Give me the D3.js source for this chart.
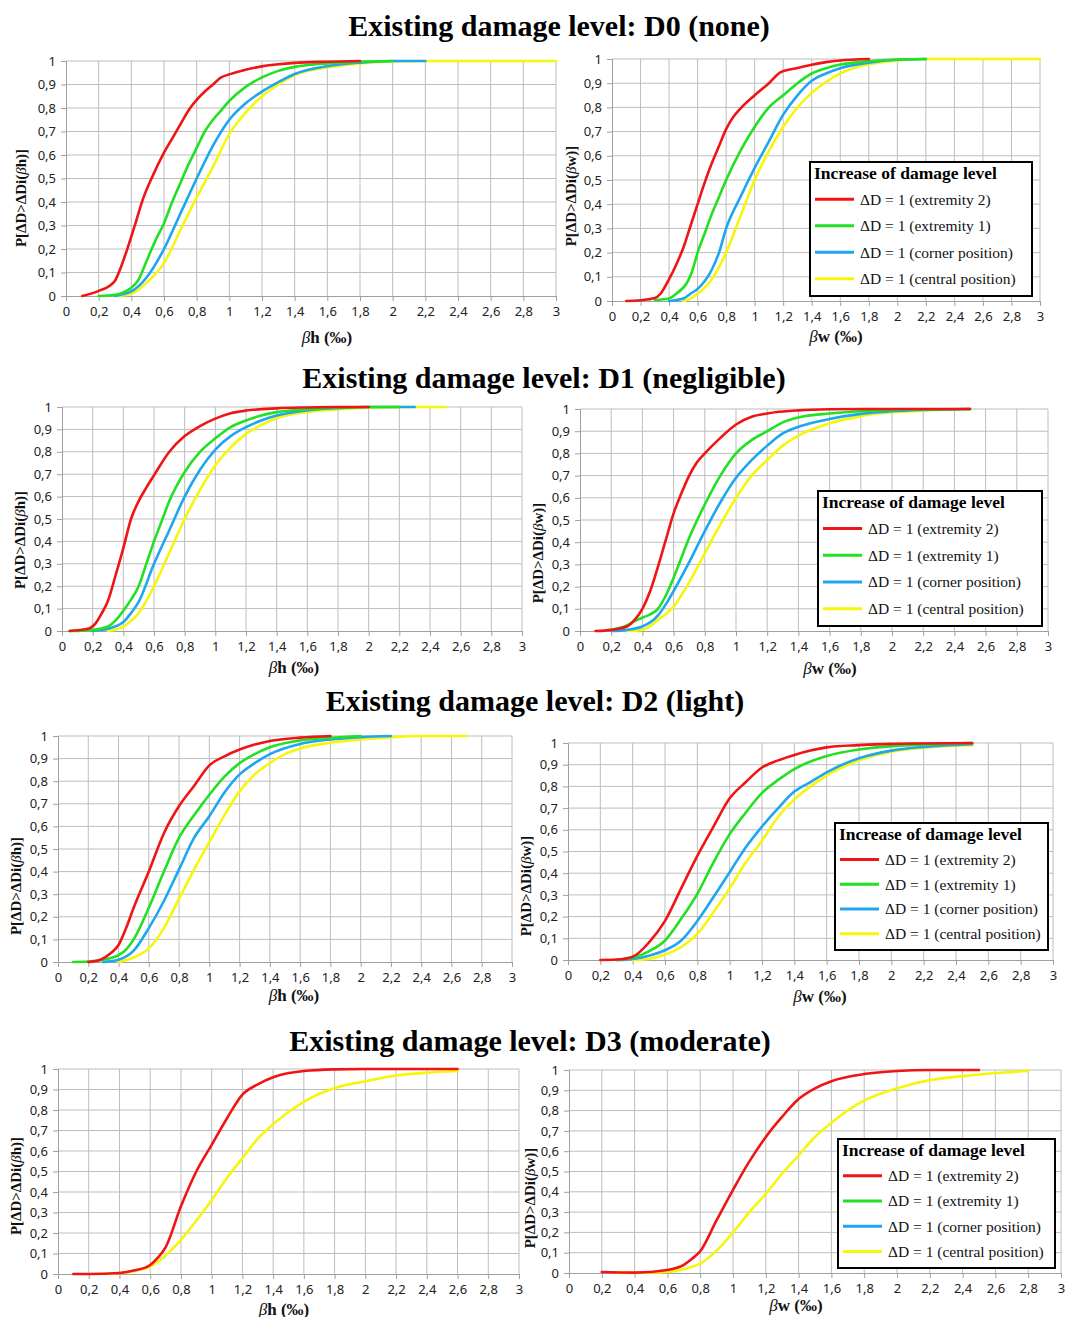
<!DOCTYPE html>
<html>
<head>
<meta charset="utf-8">
<script src="https://cdn.jsdelivr.net/npm/d3@7"></script>
<style>
  html, body { margin: 0; padding: 0; background: #ffffff; }
  svg { display: block; }
</style>
</head>
<body>
<svg id="chart" width="1068" height="1317"></svg>
<script>
// ---- Tick values (both axes use comma decimals) ----
const xTickValues = [0, 0.2, 0.4, 0.6, 0.8, 1, 1.2, 1.4, 1.6, 1.8, 2, 2.2, 2.4, 2.6, 2.8, 3];
const yTickValues = [0, 0.1, 0.2, 0.3, 0.4, 0.5, 0.6, 0.7, 0.8, 0.9, 1];

// ---- Series (legend order) ----
const seriesNames = [
  "ΔD = 1 (extremity 2)",
  "ΔD = 1 (extremity 1)",
  "ΔD = 1 (corner position)",
  "ΔD = 1 (central position)"
];
const seriesColors = ["#f01414", "#22e022", "#1ea6ee", "#f6f60c"];

const rowTitles = [
  "Existing damage level: D0 (none)",
  "Existing damage level: D1 (negligible)",
  "Existing damage level: D2 (light)",
  "Existing damage level: D3 (moderate)"
];

// ---- D0: fragility curves, [drift ‰, probability] ----
const d0hExt2    = [[0.1,0],[0.2,0.022],[0.27,0.045],[0.3,0.065],[0.34,0.13],[0.38,0.21],[0.43,0.32],[0.47,0.41],[0.53,0.51],[0.6,0.61],[0.65,0.67],[0.7,0.73],[0.76,0.8],[0.8,0.835],[0.85,0.87],[0.9,0.9],[0.95,0.93],[1.0,0.943],[1.1,0.963],[1.2,0.977],[1.3,0.986],[1.4,0.992],[1.6,0.997],[1.8,1]];
const d0hExt1    = [[0.2,0],[0.3,0.005],[0.35,0.015],[0.4,0.035],[0.44,0.065],[0.5,0.16],[0.55,0.24],[0.6,0.31],[0.65,0.4],[0.7,0.48],[0.75,0.56],[0.8,0.63],[0.85,0.7],[0.9,0.75],[0.95,0.79],[1.0,0.83],[1.1,0.89],[1.2,0.93],[1.3,0.958],[1.4,0.975],[1.6,0.99],[1.8,0.997],[2.0,1]];
const d0hCorner  = [[0.3,0],[0.35,0.008],[0.4,0.02],[0.45,0.045],[0.5,0.085],[0.6,0.2],[0.7,0.35],[0.8,0.5],[0.9,0.64],[1.0,0.75],[1.1,0.82],[1.2,0.87],[1.3,0.91],[1.4,0.945],[1.6,0.978],[1.8,0.993],[2.0,1],[2.2,1]];
const d0hCentral = [[0.3,0],[0.4,0.01],[0.45,0.03],[0.5,0.06],[0.6,0.14],[0.7,0.28],[0.8,0.42],[0.9,0.55],[1.0,0.69],[1.1,0.78],[1.2,0.85],[1.3,0.9],[1.4,0.94],[1.6,0.972],[1.8,0.99],[2.0,0.998],[2.2,1],[3.0,1]];

const d0wExt2    = [[0.1,0],[0.2,0.003],[0.3,0.012],[0.34,0.03],[0.4,0.09],[0.45,0.15],[0.5,0.22],[0.55,0.31],[0.6,0.4],[0.65,0.49],[0.7,0.57],[0.75,0.64],[0.8,0.71],[0.85,0.76],[0.9,0.795],[1.0,0.85],[1.1,0.9],[1.18,0.945],[1.3,0.963],[1.4,0.976],[1.5,0.987],[1.6,0.994],[1.8,1]];
const d0wExt1    = [[0.3,0.004],[0.4,0.01],[0.45,0.03],[0.53,0.08],[0.56,0.12],[0.6,0.2],[0.65,0.28],[0.7,0.36],[0.75,0.43],[0.8,0.5],[0.9,0.62],[1.0,0.72],[1.1,0.8],[1.2,0.85],[1.3,0.9],[1.4,0.94],[1.5,0.962],[1.6,0.977],[1.8,0.991],[2.0,0.998],[2.2,1]];
const d0wCorner  = [[0.4,0],[0.5,0.01],[0.55,0.03],[0.6,0.05],[0.7,0.13],[0.75,0.2],[0.8,0.3],[0.9,0.43],[1.0,0.55],[1.1,0.66],[1.2,0.77],[1.3,0.85],[1.4,0.91],[1.5,0.94],[1.6,0.962],[1.8,0.985],[2.0,0.997],[2.2,1]];
const d0wCentral = [[0.5,0],[0.55,0.01],[0.6,0.03],[0.7,0.09],[0.75,0.14],[0.8,0.2],[0.9,0.35],[1.0,0.5],[1.1,0.62],[1.2,0.72],[1.3,0.8],[1.4,0.86],[1.5,0.905],[1.6,0.94],[1.8,0.978],[2.0,0.994],[2.2,1],[3.0,1]];

// ---- D1 ----
const d1hExt2    = [[0.05,0],[0.1,0.003],[0.18,0.012],[0.22,0.035],[0.26,0.08],[0.3,0.135],[0.35,0.25],[0.4,0.37],[0.45,0.5],[0.5,0.58],[0.55,0.64],[0.6,0.695],[0.7,0.8],[0.8,0.87],[0.9,0.915],[1.0,0.948],[1.1,0.972],[1.2,0.984],[1.4,0.994],[1.6,0.998],[1.8,1],[2.0,1]];
const d1hExt1    = [[0.05,0],[0.2,0.005],[0.3,0.02],[0.36,0.055],[0.4,0.09],[0.45,0.14],[0.5,0.2],[0.55,0.3],[0.6,0.4],[0.65,0.49],[0.7,0.58],[0.8,0.71],[0.9,0.8],[1.0,0.86],[1.1,0.91],[1.2,0.94],[1.3,0.962],[1.4,0.977],[1.6,0.99],[1.8,0.997],[2.0,1],[2.2,1]];
const d1hCorner  = [[0.2,0],[0.3,0.01],[0.4,0.04],[0.45,0.08],[0.5,0.13],[0.6,0.3],[0.7,0.45],[0.8,0.6],[0.9,0.72],[1.0,0.81],[1.1,0.87],[1.2,0.91],[1.3,0.94],[1.4,0.962],[1.6,0.985],[1.8,0.995],[2.0,1],[2.3,1]];
const d1hCentral = [[0.3,0],[0.4,0.02],[0.45,0.045],[0.5,0.08],[0.6,0.2],[0.7,0.35],[0.8,0.5],[0.9,0.63],[1.0,0.74],[1.1,0.82],[1.2,0.88],[1.3,0.92],[1.4,0.95],[1.6,0.978],[1.8,0.99],[2.0,0.997],[2.2,1],[2.5,1]];

const d1wExt2    = [[0.1,0],[0.2,0.005],[0.3,0.02],[0.35,0.05],[0.4,0.1],[0.45,0.18],[0.5,0.29],[0.55,0.41],[0.6,0.53],[0.65,0.62],[0.7,0.7],[0.75,0.76],[0.8,0.8],[0.9,0.87],[1.0,0.93],[1.1,0.965],[1.2,0.98],[1.4,0.994],[1.6,0.999],[1.8,1],[2.5,1]];
const d1wExt1    = [[0.2,0.005],[0.3,0.025],[0.35,0.045],[0.4,0.06],[0.45,0.075],[0.5,0.1],[0.55,0.16],[0.6,0.24],[0.65,0.33],[0.7,0.42],[0.8,0.57],[0.9,0.7],[1.0,0.8],[1.1,0.86],[1.2,0.9],[1.3,0.94],[1.4,0.962],[1.6,0.98],[1.8,0.99],[2.0,0.996],[2.5,1]];
const d1wCorner  = [[0.2,0],[0.3,0.005],[0.4,0.02],[0.5,0.07],[0.55,0.12],[0.6,0.18],[0.7,0.31],[0.8,0.45],[0.9,0.58],[1.0,0.69],[1.1,0.77],[1.2,0.835],[1.3,0.89],[1.4,0.92],[1.6,0.955],[1.8,0.978],[2.0,0.99],[2.2,0.996],[2.5,1]];
const d1wCentral = [[0.3,0],[0.4,0.005],[0.5,0.05],[0.6,0.11],[0.7,0.22],[0.8,0.35],[0.9,0.48],[1.0,0.6],[1.1,0.7],[1.2,0.77],[1.3,0.835],[1.4,0.88],[1.6,0.935],[1.8,0.968],[2.0,0.985],[2.2,0.993],[2.5,1]];

// ---- D2 ----
const d2hExt2    = [[0.2,0],[0.28,0.01],[0.35,0.04],[0.4,0.075],[0.45,0.15],[0.5,0.24],[0.6,0.4],[0.7,0.57],[0.8,0.69],[0.9,0.78],[1.0,0.87],[1.1,0.91],[1.2,0.94],[1.3,0.962],[1.4,0.978],[1.6,0.993],[1.8,1]];
const d2hExt1    = [[0.1,0],[0.2,0.002],[0.3,0.01],[0.4,0.03],[0.45,0.055],[0.5,0.1],[0.6,0.24],[0.7,0.4],[0.8,0.55],[0.9,0.65],[1.0,0.74],[1.1,0.82],[1.2,0.88],[1.3,0.92],[1.4,0.95],[1.6,0.98],[1.8,0.992],[2.0,1]];
const d2hCorner  = [[0.3,0],[0.4,0.01],[0.5,0.05],[0.6,0.15],[0.7,0.27],[0.8,0.41],[0.9,0.55],[1.0,0.645],[1.1,0.75],[1.2,0.83],[1.3,0.88],[1.4,0.92],[1.6,0.965],[1.8,0.985],[2.0,0.995],[2.2,1]];
const d2hCentral = [[0.4,0],[0.5,0.02],[0.6,0.06],[0.7,0.15],[0.8,0.28],[0.9,0.41],[1.0,0.53],[1.1,0.65],[1.2,0.755],[1.3,0.83],[1.4,0.88],[1.5,0.92],[1.6,0.945],[1.8,0.97],[2.0,0.985],[2.2,0.995],[2.4,1],[2.7,1]];

const d2wExt2    = [[0.2,0],[0.3,0.002],[0.4,0.015],[0.5,0.08],[0.6,0.18],[0.7,0.33],[0.8,0.48],[0.9,0.615],[1.0,0.745],[1.1,0.82],[1.2,0.887],[1.3,0.92],[1.4,0.945],[1.5,0.965],[1.6,0.98],[1.8,0.99],[2.0,0.996],[2.5,1]];
const d2wExt1    = [[0.3,0],[0.4,0.01],[0.5,0.04],[0.6,0.09],[0.7,0.19],[0.8,0.305],[0.9,0.45],[1.0,0.58],[1.1,0.68],[1.2,0.77],[1.3,0.83],[1.4,0.88],[1.6,0.94],[1.8,0.97],[2.0,0.985],[2.2,0.993],[2.5,1]];
const d2wCorner  = [[0.3,0],[0.4,0.005],[0.5,0.02],[0.6,0.045],[0.7,0.09],[0.8,0.18],[0.9,0.29],[1.0,0.405],[1.1,0.52],[1.2,0.615],[1.3,0.7],[1.4,0.776],[1.5,0.82],[1.6,0.865],[1.8,0.93],[2.0,0.965],[2.2,0.982],[2.5,0.995]];
const d2wCentral = [[0.4,0],[0.5,0.005],[0.6,0.025],[0.7,0.06],[0.8,0.12],[0.9,0.22],[1.0,0.33],[1.1,0.45],[1.2,0.55],[1.3,0.66],[1.4,0.74],[1.5,0.8],[1.6,0.85],[1.8,0.92],[2.0,0.96],[2.2,0.978],[2.5,0.99]];

// ---- D3 (only extremity 2 and central position are plotted) ----
const d3hExt2    = [[0.1,0],[0.2,0],[0.4,0.005],[0.5,0.018],[0.6,0.044],[0.65,0.08],[0.7,0.13],[0.8,0.33],[0.9,0.5],[1.0,0.63],[1.1,0.76],[1.2,0.875],[1.3,0.925],[1.4,0.96],[1.5,0.98],[1.6,0.99],[1.8,0.998],[2.0,1],[2.6,1]];
const d3hCentral = [[0.3,0],[0.4,0.005],[0.5,0.015],[0.6,0.036],[0.7,0.09],[0.8,0.166],[0.9,0.26],[1.0,0.36],[1.1,0.47],[1.2,0.565],[1.3,0.66],[1.4,0.73],[1.5,0.79],[1.6,0.84],[1.8,0.907],[2.0,0.94],[2.2,0.968],[2.4,0.982],[2.6,0.99]];

const d3wExt2    = [[0.2,0.005],[0.4,0.002],[0.6,0.015],[0.7,0.04],[0.75,0.07],[0.8,0.107],[0.9,0.26],[1.0,0.41],[1.1,0.55],[1.2,0.67],[1.3,0.77],[1.4,0.857],[1.5,0.91],[1.6,0.945],[1.8,0.98],[2.0,0.995],[2.2,1],[2.5,1]];
const d3wCentral = [[0.3,0],[0.4,0],[0.6,0.005],[0.7,0.02],[0.8,0.046],[0.9,0.11],[1.0,0.2],[1.1,0.3],[1.2,0.39],[1.3,0.49],[1.4,0.58],[1.5,0.67],[1.6,0.74],[1.8,0.85],[2.0,0.91],[2.2,0.95],[2.4,0.97],[2.6,0.985],[2.8,0.995]];

// ---- Panel layout: plot boxes and axis-title anchors in pixels ----
const panels = [
  { v: "h", box: {l: 66,  r: 556,  t: 61,   b: 296},  yl: [21, 198],  xl: [327, 337],  series: [d0hExt2, d0hExt1, d0hCorner, d0hCentral] },
  { v: "w", box: {l: 612, r: 1040, t: 59,   b: 301},  yl: [571, 196], xl: [836, 336],  series: [d0wExt2, d0wExt1, d0wCorner, d0wCentral],
    legend: {l: 810, r: 1032, t: 162, b: 296} },
  { v: "h", box: {l: 62,  r: 522,  t: 407,  b: 631},  yl: [20, 540],  xl: [294, 667],  series: [d1hExt2, d1hExt1, d1hCorner, d1hCentral] },
  { v: "w", box: {l: 580, r: 1048, t: 409,  b: 631},  yl: [538, 553], xl: [830, 668],  series: [d1wExt2, d1wExt1, d1wCorner, d1wCentral],
    legend: {l: 818, r: 1042, t: 491, b: 626} },
  { v: "h", box: {l: 58,  r: 512,  t: 736,  b: 962},  yl: [16, 886],  xl: [294, 995],  series: [d2hExt2, d2hExt1, d2hCorner, d2hCentral] },
  { v: "w", box: {l: 568, r: 1053, t: 743,  b: 960},  yl: [526, 886], xl: [820, 996],  series: [d2wExt2, d2wExt1, d2wCorner, d2wCentral],
    legend: {l: 835, r: 1048, t: 823, b: 950} },
  { v: "h", box: {l: 58,  r: 519,  t: 1069, b: 1274}, yl: [16, 1186], xl: [284, 1309], series: [d3hExt2, null, null, d3hCentral] },
  { v: "w", box: {l: 569, r: 1061, t: 1070, b: 1273}, yl: [530, 1198], xl: [796, 1305], series: [d3wExt2, null, null, d3wCentral],
    legend: {l: 838, r: 1055, t: 1139, b: 1268} }
];
const titleY = [25, 377, 700, 1040];
const titleX = [559, 544, 535, 530];

const svg = d3.select("#chart");
const fmt = v => d3.format(".1~f")(v).replace(".", ",");
const serif = "'Liberation Serif', 'Times New Roman', serif";
const sans = "'Noto Sans', 'Open Sans', sans-serif";

// Row titles
rowTitles.forEach((t, i) => {
  svg.append("text")
    .attr("x", titleX[i]).attr("y", titleY[i])
    .attr("text-anchor", "middle").attr("dominant-baseline", "central")
    .attr("font-family", serif).attr("font-weight", "bold").attr("font-size", 30)
    .attr("fill", "#000").text(t);
});

panels.forEach(p => {
  const b = p.box;
  const x = d3.scaleLinear().domain([0, 3]).range([b.l, b.r]);
  const y = d3.scaleLinear().domain([0, 1]).range([b.b, b.t]);
  const g = svg.append("g");

  // Grid
  g.append("g").selectAll("line").data(xTickValues.slice(1)).join("line")
    .attr("x1", d => x(d)).attr("x2", d => x(d)).attr("y1", b.t).attr("y2", b.b)
    .attr("stroke", "#bdbdbd").attr("stroke-width", 1);
  g.append("g").selectAll("line").data(yTickValues.slice(1)).join("line")
    .attr("x1", b.l).attr("x2", b.r).attr("y1", d => y(d)).attr("y2", d => y(d))
    .attr("stroke", "#bdbdbd").attr("stroke-width", 1);

  // Axes
  const xAxis = d3.axisBottom(x).tickValues(xTickValues).tickFormat(fmt).tickSize(5).tickPadding(6);
  const yAxis = d3.axisLeft(y).tickValues(yTickValues).tickFormat(fmt).tickSize(5).tickPadding(5);
  const gx = g.append("g").attr("transform", `translate(0,${b.b})`).call(xAxis);
  const gy = g.append("g").attr("transform", `translate(${b.l},0)`).call(yAxis);
  [gx, gy].forEach(a => {
    a.selectAll("path").attr("stroke", "#a0a0a0");
    a.selectAll("line").attr("stroke", "#a0a0a0");
    a.selectAll("text").attr("font-family", sans).attr("font-size", 13).attr("fill", "#222");
  });

  // Curves
  const line = d3.line().x(d => x(d[0])).y(d => y(d[1])).curve(d3.curveMonotoneX);
  const order = [3, 2, 1, 0];
  order.forEach(i => {
    const s = p.series[i];
    if (!s) return;
    g.append("path").datum(s)
      .attr("d", line).attr("fill", "none")
      .attr("stroke", seriesColors[i]).attr("stroke-width", 2.6)
      .attr("stroke-linejoin", "round").attr("stroke-linecap", "round");
  });

  // Axis titles
  const xl = g.append("text")
    .attr("x", p.xl[0]).attr("y", p.xl[1])
    .attr("text-anchor", "middle").attr("dominant-baseline", "central")
    .attr("font-family", serif).attr("font-size", 17).attr("fill", "#111");
  xl.append("tspan").attr("font-style", "italic").text("β");
  xl.append("tspan").attr("font-weight", "bold").text(p.v + " (‰)");

  const yl = g.append("text")
    .attr("transform", `translate(${p.yl[0]},${p.yl[1]}) rotate(-90)`)
    .attr("text-anchor", "middle").attr("dominant-baseline", "central")
    .attr("font-family", serif).attr("font-size", 15).attr("fill", "#111");
  yl.append("tspan").attr("font-weight", "bold").text("P[ΔD>ΔDi(");
  yl.append("tspan").attr("font-style", "italic").text("β");
  yl.append("tspan").attr("font-weight", "bold").text(p.v + ")]");

  // Legend
  if (p.legend) {
    const L = p.legend;
    const lg = svg.append("g");
    lg.append("rect")
      .attr("x", L.l).attr("y", L.t).attr("width", L.r - L.l).attr("height", L.b - L.t)
      .attr("fill", "#fff").attr("stroke", "#000").attr("stroke-width", 2);
    const rowH = (L.b - L.t - 28) / 4;
    lg.append("text")
      .attr("x", L.l + 4).attr("y", L.t + 11)
      .attr("dominant-baseline", "central")
      .attr("font-family", serif).attr("font-weight", "bold").attr("font-size", 17.5)
      .text("Increase of damage level");
    seriesNames.forEach((n, i) => {
      const cy = L.t + 24 + rowH * (i + 0.5);
      lg.append("line")
        .attr("x1", L.l + 5).attr("x2", L.l + 44).attr("y1", cy).attr("y2", cy)
        .attr("stroke", seriesColors[i]).attr("stroke-width", 3);
      lg.append("text")
        .attr("x", L.l + 50).attr("y", cy)
        .attr("dominant-baseline", "central")
        .attr("font-family", serif).attr("font-size", 15.5).attr("fill", "#111")
        .text(n);
    });
  }
});
</script>
</body>
</html>
